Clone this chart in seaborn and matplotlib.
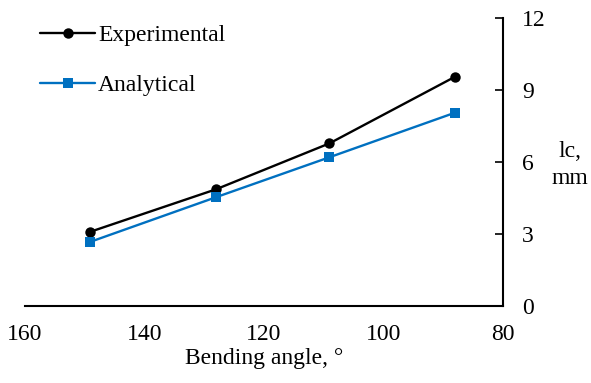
import matplotlib
matplotlib.use("Agg")
import matplotlib.pyplot as plt
import seaborn as sns
import pandas as pd

angles = [149, 128, 109, 88]
experimental = [3.09, 4.86, 6.78, 9.56]
analytical = [2.67, 4.53, 6.20, 8.06]
series_names = ["Experimental", "Analytical"]
x_ticks = [160, 140, 120, 100, 80]
y_ticks = [0, 3, 6, 9, 12]

sns.set_style("white")
plt.rcParams['font.family'] = ['Liberation Serif', 'DejaVu Serif']
plt.rcParams['font.size'] = 17
plt.rcParams['text.color'] = 'black'
plt.rcParams['axes.labelcolor'] = 'black'
plt.rcParams['xtick.color'] = 'black'
plt.rcParams['ytick.color'] = 'black'

df = pd.DataFrame({
    "angle": angles * 2,
    "lc": experimental + analytical,
    "series": [series_names[0]] * len(angles) + [series_names[1]] * len(angles),
})

fig = plt.figure(figsize=(5.91, 3.83), dpi=100)
ax = fig.add_axes([0.0418, 0.2018, 0.8088, 0.7502])

sns.lineplot(data=df, x="angle", y="lc", hue="series", style="series",
             palette={"Experimental": "#000000", "Analytical": "#0070C0"},
             markers={"Experimental": "o", "Analytical": "s"},
             dashes=False, linewidth=1.7, markersize=7.5, markeredgewidth=0,
             ax=ax, sort=False)

ax.set_xlim(160, 80)
ax.set_ylim(0, 12)
ax.set_xticks(x_ticks)
ax.set_yticks(y_ticks)
ax.yaxis.tick_right()
for s in ["left", "top"]:
    ax.spines[s].set_visible(False)
for s in ["bottom", "right"]:
    ax.spines[s].set_color("black")
    ax.spines[s].set_linewidth(1.5)
ax.tick_params(axis="x", direction="in", length=6, width=1.2, labelsize=17, pad=13, colors="black")
ax.tick_params(axis="y", direction="in", length=6, width=1.2, labelsize=17, pad=14, colors="black",
               left=False, right=True, labelleft=False, labelright=True)
ax.set_xlabel("Bending angle, \u00b0", fontsize=17, labelpad=2, color="black")
ax.set_ylabel("")

fig.text(570 / 591, 1 - 165 / 383, "lc,\nmm", ha="center", va="center", fontsize=17,
         linespacing=1.35, color="black")

leg = ax.legend(loc="upper left", bbox_to_anchor=(40 / 591, 1 - 24.5 / 383),
                bbox_transform=fig.transFigure, frameon=False, fontsize=17,
                handlelength=2.33, handletextpad=0.13, labelspacing=1.2,
                borderaxespad=0, borderpad=0)
for t in leg.get_texts():
    t.set_color("black")

fig.savefig("out.png", dpi=100)
